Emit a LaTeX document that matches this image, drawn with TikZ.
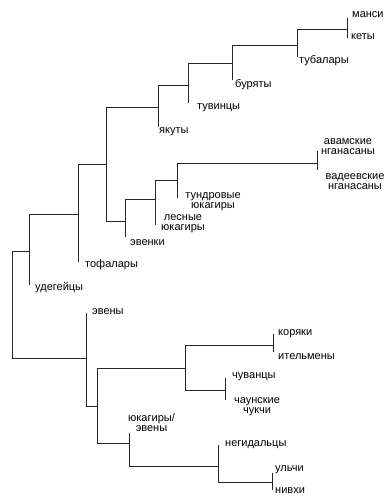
\documentclass[tikz,border=0pt]{standalone}
\usepackage{fontspec}
\setmainfont{Liberation Sans}
\begin{document}
\begin{tikzpicture}[x=1pt,y=-1pt,
  branch/.style={draw=black!85, line width=0.8pt},
  taxon/.style={font=\fontsize{11}{10}\selectfont, inner sep=0pt, anchor=west},
  taxon2/.style={font=\fontsize{11}{10}\selectfont, inner sep=0pt, align=center}]
\useasboundingbox (0,0) rectangle (389,497);

% vertical spans of the internal nodes (top and bottom ends)
\coordinate (Rt) at (12,251);  \coordinate (Rb) at (12,358);
\coordinate (At) at (29,214);  \coordinate (Ab) at (29,285);
\coordinate (Ct) at (78,164);  \coordinate (Cb) at (78,262);
\coordinate (Dt) at (106,107); \coordinate (Db) at (106,221);
\coordinate (Et) at (158,85);  \coordinate (Eb) at (158,127);
\coordinate (Gt) at (188,63);  \coordinate (Gb) at (188,103);
\coordinate (Ht) at (232,45);  \coordinate (Hb) at (232,80);
\coordinate (It) at (297,29);  \coordinate (Ib) at (297,57);
\coordinate (Jt) at (347,18);  \coordinate (Jb) at (347,38);
\coordinate (Ft) at (125,199); \coordinate (Fb) at (125,237);
\coordinate (Kt) at (155,180); \coordinate (Kb) at (155,225);
\coordinate (Lt) at (177,163); \coordinate (Lb) at (177,198);
\coordinate (Mt) at (317,151); \coordinate (Mb) at (317,170);
\coordinate (Bt) at (86,313);  \coordinate (Bb) at (86,406);
\coordinate (Nt) at (97,368);  \coordinate (Nb) at (97,443);
\coordinate (Ot) at (185,345); \coordinate (Ob) at (185,390);
\coordinate (Qt) at (273,334); \coordinate (Qb) at (273,352);
\coordinate (St) at (225,378); \coordinate (Sb) at (225,400);
\coordinate (Pt) at (129,433); \coordinate (Pb) at (129,466);
\coordinate (Tt) at (218,445); \coordinate (Tb) at (218,482);
\coordinate (Ut) at (272,473); \coordinate (Ub) at (272,490);

% vertical bars
\foreach \n in {R,A,C,D,E,G,H,I,J,F,K,L,M,B,N,O,Q,S,P,T,U}
  \draw[branch] (\n t) -- (\n b);

% horizontal branches: parent end -> child bar
\draw[branch] (Rt) -- (Rt -| At);
\draw[branch] (Rb) -- (Rb -| Bt);
\draw[branch] (At) -- (At -| Ct);
\draw[branch] (Ct) -- (Ct -| Dt);
\draw[branch] (Dt) -- (Dt -| Et);
\draw[branch] (Db) -- (Db -| Ft);
\draw[branch] (Et) -- (Et -| Gt);
\draw[branch] (Gt) -- (Gt -| Ht);
\draw[branch] (Ht) -- (Ht -| It);
\draw[branch] (It) -- (It -| Jt);
\draw[branch] (Ft) -- (Ft -| Kt);
\draw[branch] (Kt) -- (Kt -| Lt);
\draw[branch] (Lt) -- (Lt -| Mt);
\draw[branch] (Bb) -- (Bb -| Nt);
\draw[branch] (Nt) -- (Nt -| Ot);
\draw[branch] (Nb) -- (Nb -| Pt);
\draw[branch] (Ot) -- (Ot -| Qt);
\draw[branch] (Ob) -- (Ob -| St);
\draw[branch] (Pb) -- (Pb -| Tt);
\draw[branch] (Tb) -- (Tb -| Ut);

% taxon labels
\node[taxon] (mansi)   at (352,15)  {манси};
\node[taxon] (kety)    at (351,37)  {кеты};
\node[taxon] (tubal)   at (299,61)  {тубалары};
\node[taxon] (buryat)  at (235,85)  {буряты};
\node[taxon] (tuvin)   at (197,108) {тувинцы};
\node[taxon] (yakut)   at (159,132) {якуты};
\node[taxon] (tofal)   at (85,265)  {тофалары};
\node[taxon] (udeg)    at (35,288)  {удегейцы};
\node[taxon] (evenki)  at (130,243) {эвенки};
\node[taxon2] (avam)   at (348,147) {авамские\\нганасаны};
\node[taxon2] (vadeev) at (355,182) {вадеевские\\нганасаны};
\node[taxon2] (tundr)  at (213,202) {тундровые\\юкагиры};
\node[taxon2] (lesn)   at (183,223.5) {лесные\\юкагиры};
\node[taxon] (eveny)   at (92,312)  {эвены};
\node[taxon] (koryak)  at (278,334) {коряки};
\node[taxon] (itelm)   at (278,357) {ительмены};
\node[taxon] (chuvan)  at (232,377) {чуванцы};
\node[taxon2] (chaun)  at (257,407) {чаунские\\чукчи};
\node[taxon2] (yukev)  at (151.5,423) {юкагиры/\\эвены};
\node[taxon] (negid)   at (225,445) {негидальцы};
\node[taxon] (ulchi)   at (275,470) {ульчи};
\node[taxon] (nivkhi)  at (275,491) {нивхи};
\end{tikzpicture}
\end{document}
